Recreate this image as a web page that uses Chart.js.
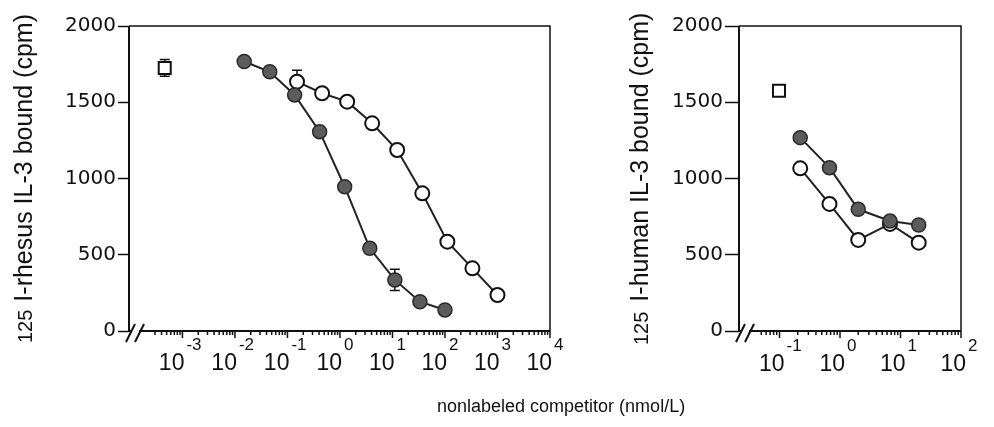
<!DOCTYPE html>
<html>
<head>
<meta charset="utf-8">
<title>IL-3 competition binding</title>
<script src="https://cdn.jsdelivr.net/npm/chart.js@4/dist/chart.umd.min.js"></script>
<style>
  body { margin: 0; background: #fff; }
  #wrap { position: relative; width: 994px; height: 427px; overflow: hidden; }
  #wrap canvas { position: absolute; top: 0; }
  #rhesusChart { left: 0; }
  #humanChart { left: 600px; }
  #xTitle {
    position: absolute; left: 437px; top: 396px;
    font: 18px/20px "Liberation Sans", Arial, sans-serif; color: #111; white-space: nowrap;
  }
</style>
</head>
<body>
<div id="wrap">
  <canvas id="rhesusChart" width="600" height="427"></canvas>
  <canvas id="humanChart" width="394" height="427"></canvas>
  <div id="xTitle">nonlabeled competitor (nmol/L)</div>
</div>
<script>
// rhesus IL-3 tracer (left panel)
const rhesusDoses = [0.015, 0.046, 0.137, 0.41, 1.23, 3.7, 11.1, 33.3, 100];
const rhesusFilled = [1767, 1700, 1548, 1307, 946, 542, 335, 192, 138];
const rhesusFilledErr = [0, 0, 0, 0, 0, 0, 70, 0, 0];
const rhesusOpenDoses = [0.152, 0.457, 1.37, 4.1, 12.3, 37, 111, 333, 1000];
const rhesusOpen = [1635, 1559, 1504, 1362, 1187, 903, 586, 411, 236];
const rhesusOpenErr = [75, 0, 0, 0, 0, 0, 0, 0, 0];
const rhesusBlankDose = [0.00046];
const rhesusBlank = [1725];
const rhesusBlankErr = [55];

// human IL-3 tracer (right panel)
const humanDoses = [0.22, 0.67, 2, 6.7, 20];
const humanFilled = [1268, 1071, 798, 721, 695];
const humanOpen = [1067, 833, 597, 702, 579];
const humanBlankDose = [0.098];
const humanBlank = [1576];

const yTicks = [0, 500, 1000, 1500, 2000];
const rhesusDecades = [-3, -2, -1, 0, 1, 2, 3, 4];
const humanDecades = [-1, 0, 1, 2];

document.addEventListener("DOMContentLoaded", () => {
  Chart.defaults.font.family = "'Liberation Sans', Arial, sans-serif";
  Chart.defaults.color = "#111";

  const toPoints = (xs, ys) => xs.map((x, i) => ({ x, y: ys[i] }));

  // frame, log ticks with 10^n labels, axis break, error bars, y title
  const panelDecor = {
    id: "panelDecor",
    beforeDatasetsDraw(chart, args, opts) {
      const { ctx, chartArea: a } = chart;
      const xs = chart.scales.x, ys = chart.scales.y;
      ctx.save();
      ctx.strokeStyle = "#111";
      // box
      ctx.lineWidth = 1.5;
      ctx.beginPath();
      ctx.moveTo(a.left, a.top); ctx.lineTo(a.right, a.top); ctx.lineTo(a.right, a.bottom);
      ctx.stroke();
      ctx.lineWidth = 2;
      ctx.beginPath();
      ctx.moveTo(a.left, a.top); ctx.lineTo(a.left, a.bottom); ctx.lineTo(a.right, a.bottom);
      ctx.stroke();

      // error bars, under the markers
      ctx.lineWidth = 1.5;
      chart.data.datasets.forEach(ds => {
        if (!ds.errors) return;
        ds.data.forEach((pt, i) => {
          const e = ds.errors[i];
          if (!e) return;
          const px = xs.getPixelForValue(pt.x);
          const top = ys.getPixelForValue(pt.y + e);
          const bot = ys.getPixelForValue(pt.y - e);
          ctx.beginPath();
          ctx.moveTo(px, top); ctx.lineTo(px, bot);
          ctx.moveTo(px - 5, top); ctx.lineTo(px + 5, top);
          ctx.moveTo(px - 5, bot); ctx.lineTo(px + 5, bot);
          ctx.stroke();
        });
      });

      // minor + decade ticks below the axis
      ctx.lineWidth = 1.5;
      const first = opts.decades[0] - 1;
      const last = opts.decades[opts.decades.length - 1];
      for (let d = first; d <= last; d++) {
        for (let k = 1; k <= 9; k++) {
          const v = k * Math.pow(10, d);
          if (v < xs.min || v > xs.max * 1.0001) continue;
          const px = xs.getPixelForValue(v);
          if (px < a.left + 18) continue;
          ctx.beginPath();
          ctx.moveTo(px, a.bottom);
          ctx.lineTo(px, a.bottom + (k === 1 ? 7 : 4));
          ctx.stroke();
        }
      }

      // axis break
      const b = a.bottom, l = a.left;
      ctx.fillStyle = "#fff";
      ctx.fillRect(l + 2, b - 2, 8, 4);
      ctx.lineWidth = 2;
      ctx.beginPath();
      ctx.moveTo(l - 3, b + 11); ctx.lineTo(l + 6, b - 7);
      ctx.moveTo(l + 6, b + 11); ctx.lineTo(l + 15, b - 7);
      ctx.stroke();

      // decade labels: "10" with raised exponent
      ctx.fillStyle = "#111";
      ctx.textBaseline = "alphabetic";
      opts.decades.forEach(d => {
        const px = xs.getPixelForValue(Math.pow(10, d));
        ctx.font = "23px 'Liberation Sans', Arial, sans-serif";
        ctx.textAlign = "right";
        ctx.fillText("10", px + opts.labelDx, opts.labelBase);
        ctx.font = "17px 'Liberation Sans', Arial, sans-serif";
        ctx.textAlign = "left";
        ctx.fillText(String(d), px + opts.labelDx + 2, opts.labelBase - 20);
      });

      // rotated y title with the isotope number in front
      ctx.translate(opts.titleX, opts.titleBottom);
      ctx.rotate(-Math.PI / 2);
      ctx.textAlign = "left";
      ctx.font = "20px 'Liberation Sans', Arial, sans-serif";
      ctx.fillText("125", 0, 0);
      const w = ctx.measureText("125").width;
      ctx.font = "25px 'Liberation Sans', Arial, sans-serif";
      ctx.fillText(opts.title, w + opts.titleGap, 0);
      ctx.restore();
    }
  };

  const filledStyle = {
    showLine: true,
    borderColor: "#222",
    borderWidth: 2,
    pointRadius: 7,
    pointBackgroundColor: "#5c5c5c",
    pointBorderColor: "#2a2a2a",
    pointBorderWidth: 1.5
  };
  const openStyle = {
    showLine: true,
    borderColor: "#222",
    borderWidth: 2,
    pointRadius: 7,
    pointBackgroundColor: "#fff",
    pointBorderColor: "#111",
    pointBorderWidth: 2
  };
  const blankStyle = {
    showLine: false,
    pointStyle: "rect",
    pointRadius: 8.5,
    pointBackgroundColor: "#fff",
    pointBorderColor: "#111",
    pointBorderWidth: 2
  };

  const makeOptions = (xMin, xMax, yWidth, tickLen, padRight, decor) => ({
    responsive: false,
    animation: false,
    events: [],
    layout: { padding: { top: 26, right: padRight, bottom: 0, left: 0 } },
    plugins: {
      legend: { display: false },
      tooltip: { enabled: false },
      panelDecor: decor
    },
    scales: {
      x: {
        type: "logarithmic",
        min: xMin,
        max: xMax,
        ticks: { display: false },
        grid: { display: false },
        border: { display: false },
        afterFit: s => { s.height = 96; }
      },
      y: {
        min: 0,
        max: 2000,
        afterBuildTicks: s => { s.ticks = yTicks.map(v => ({ value: v })); },
        ticks: {
          font: { family: "'DejaVu Sans', sans-serif", size: 20 },
          color: "#111",
          padding: 2,
          callback: v => String(v)
        },
        grid: { drawOnChartArea: false, tickLength: tickLen, tickColor: "#111", tickWidth: 1.5 },
        border: { display: false },
        afterFit: s => { s.width = yWidth; }
      }
    }
  });

  new Chart(document.getElementById("rhesusChart"), {
    type: "scatter",
    data: {
      datasets: [
        { ...filledStyle, data: toPoints(rhesusDoses, rhesusFilled), errors: rhesusFilledErr },
        { ...openStyle, data: toPoints(rhesusOpenDoses, rhesusOpen), errors: rhesusOpenErr },
        { ...blankStyle, data: toPoints(rhesusBlankDose, rhesusBlank), errors: rhesusBlankErr }
      ]
    },
    options: makeOptions(9.6e-5, 1e4, 129, 11, 50, {
      decades: rhesusDecades, labelDx: 2, labelBase: 370,
      title: "I-rhesus IL-3 bound (cpm)", titleX: 32, titleBottom: 343, titleGap: 8
    }),
    plugins: [panelDecor]
  });

  new Chart(document.getElementById("humanChart"), {
    type: "scatter",
    data: {
      datasets: [
        { ...filledStyle, data: toPoints(humanDoses, humanFilled) },
        { ...openStyle, data: toPoints(humanDoses, humanOpen) },
        { ...blankStyle, data: toPoints(humanBlankDose, humanBlank) }
      ]
    },
    options: makeOptions(0.0214, 100, 139, 14, 33, {
      decades: humanDecades, labelDx: 5, labelBase: 371,
      title: "I-human IL-3 bound (cpm)", titleX: 48, titleBottom: 345, titleGap: 10
    }),
    plugins: [panelDecor]
  });
});
</script>
</body>
</html>
